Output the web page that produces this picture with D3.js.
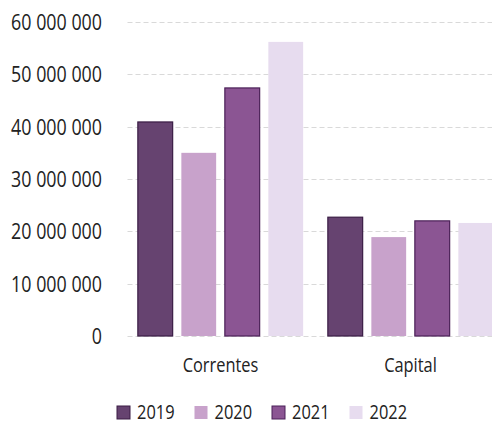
<!DOCTYPE html>
<html>
<head>
<meta charset="utf-8">
<script src="https://cdn.jsdelivr.net/npm/d3@7"></script>
<style>
  html, body { margin: 0; padding: 0; background: #ffffff; }
  svg { display: block; }
  text { font-family: "Open Sans", sans-serif; fill: #222; }
</style>
</head>
<body>
<svg id="chart" width="492" height="426"></svg>
<script>
// Revenue by type (Correntes / Capital), per year
const categories = ["Correntes", "Capital"];
const years = ["2019", "2020", "2021", "2022"];
const values2019 = [40900000, 22700000];
const values2020 = [35000000, 18900000];
const values2021 = [47400000, 22000000];
const values2022 = [56200000, 21600000];
const yTicks = [0, 10000000, 20000000, 30000000, 40000000, 50000000, 60000000];

const seriesValues = [values2019, values2020, values2021, values2022];
const fills = ["#664370", "#c8a2cb", "#8b5593", "#e7dcef"];
const strokes = ["#3a1d45", "none", "#4b2158", "none"];

const svg = d3.select("#chart");
const plot = { left: 125.5, right: 505.5, top: 22, bottom: 336 };

const y = d3.scaleLinear().domain([0, 60000000]).range([plot.bottom, plot.top]);
const x0 = d3.scaleBand().domain(categories).range([plot.left, plot.right])
  .paddingInner(0.13).paddingOuter(0.065);
const x1 = d3.scaleBand().domain(years).range([0, x0.bandwidth()])
  .paddingInner(0.2).paddingOuter(0);

const fmt = v => d3.format(",")(v).replace(/,/g, " ");

// squeeze a label horizontally so the lettering reads as a narrow face
function condense(sel, factor) {
  sel.each(function () {
    const w = this.getComputedTextLength();
    d3.select(this)
      .attr("textLength", w * factor)
      .attr("lengthAdjust", "spacingAndGlyphs");
  });
}

// horizontal gridlines
svg.append("g")
  .selectAll("line")
  .data(yTicks)
  .join("line")
  .attr("x1", plot.left + 2)
  .attr("x2", 492)
  .attr("y1", d => Math.round(y(d)) + 0.5)
  .attr("y2", d => Math.round(y(d)) + 0.5)
  .attr("stroke", "#d9d9d9")
  .attr("stroke-width", 1)
  .attr("stroke-dasharray", "5 3");

// y axis labels
const yAxis = d3.axisLeft(y).tickValues(yTicks).tickFormat(fmt).tickSize(0).tickPadding(0);
svg.append("g")
  .attr("transform", `translate(102,0)`)
  .call(yAxis)
  .call(g => g.select(".domain").remove())
  .call(g => g.selectAll("text")
    .attr("font-size", 21)
    .attr("dy", "0.35em")
    .attr("fill", "#222")
    .style("font-family", "\"Open Sans\", sans-serif")
    .call(condense, 0.85));

// bars
const groups = svg.append("g")
  .selectAll("g")
  .data(categories)
  .join("g")
  .attr("transform", d => `translate(${x0(d)},0)`);

groups.selectAll("rect")
  .data((c, ci) => years.map((yr, si) => ({ yr, si, v: seriesValues[si][ci] })))
  .join("rect")
  .attr("x", d => x1(d.yr))
  .attr("width", x1.bandwidth())
  .attr("y", d => y(d.v))
  .attr("height", d => plot.bottom - y(d.v))
  .attr("fill", d => fills[d.si])
  .attr("stroke", d => strokes[d.si])
  .attr("stroke-width", 1.2);

// category labels
const xAxis = d3.axisBottom(x0).tickSize(0).tickPadding(0);
svg.append("g")
  .attr("transform", `translate(0,${plot.bottom + 29})`)
  .call(xAxis)
  .call(g => g.select(".domain").remove())
  .call(g => g.selectAll("text")
    .attr("font-size", 20.5)
    .attr("dy", "0.35em")
    .attr("fill", "#222")
    .style("font-family", "\"Open Sans\", sans-serif")
    .call(condense, 0.8));

// legend
const legend = svg.append("g").attr("transform", "translate(117,412)");
const item = legend.selectAll("g")
  .data(years)
  .join("g")
  .attr("transform", (d, i) => `translate(${i * 77.5},0)`);
item.append("rect")
  .attr("x", 0).attr("y", -6)
  .attr("width", 13).attr("height", 13)
  .attr("fill", (d, i) => fills[i])
  .attr("stroke", (d, i) => strokes[i])
  .attr("stroke-width", 1);
item.append("text")
  .attr("x", 20).attr("y", 0)
  .attr("dy", "0.35em")
  .attr("font-size", 20)
  .text(d => d)
  .call(condense, 0.82);
</script>
</body>
</html>
